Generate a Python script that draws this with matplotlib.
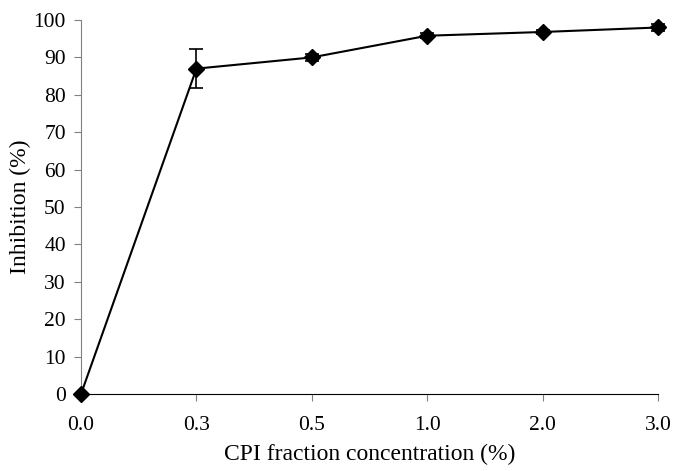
import matplotlib
matplotlib.use('Agg')
import matplotlib.pyplot as plt

plt.rcParams['font.family'] = ['Liberation Serif', 'DejaVu Serif']

# data
conc_labels = ['0.0', '0.3', '0.5', '1.0', '2.0', '3.0']
inhibition = [0, 87.0, 90.0, 95.8, 96.8, 98.0]
err = [0, 5.2, 1.0, 0.6, 0.6, 1.0]

fig = plt.figure(figsize=(6.73, 4.71), dpi=100)
ax = fig.add_axes([0.1204, 0.1635, 0.8573, 0.794])

x = list(range(len(conc_labels)))
ax.errorbar(x, inhibition, yerr=err, color='k', lw=1.5, marker='D', ms=8,
            capsize=5, elinewidth=1.2, capthick=1.2, clip_on=False, zorder=3)

ax.set_xlim(0, 5)
ax.set_ylim(0, 100)
ax.set_xticks(x)
ax.set_xticklabels(conc_labels)
ax.set_yticks(range(0, 101, 10))
ax.spines['top'].set_visible(False)
ax.spines['right'].set_visible(False)
ax.spines['left'].set_color('#808080')
ax.tick_params(axis='both', labelsize=15.5, direction='out', length=5, color='#808080')
ax.tick_params(axis='x', pad=11)
ax.tick_params(axis='y', pad=6)
ax.set_xlabel('CPI fraction concentration (%)', fontsize=17, labelpad=6)
ax.set_ylabel('Inhibition (%)', fontsize=17, labelpad=2)

fig.savefig('out.png', dpi=100)
